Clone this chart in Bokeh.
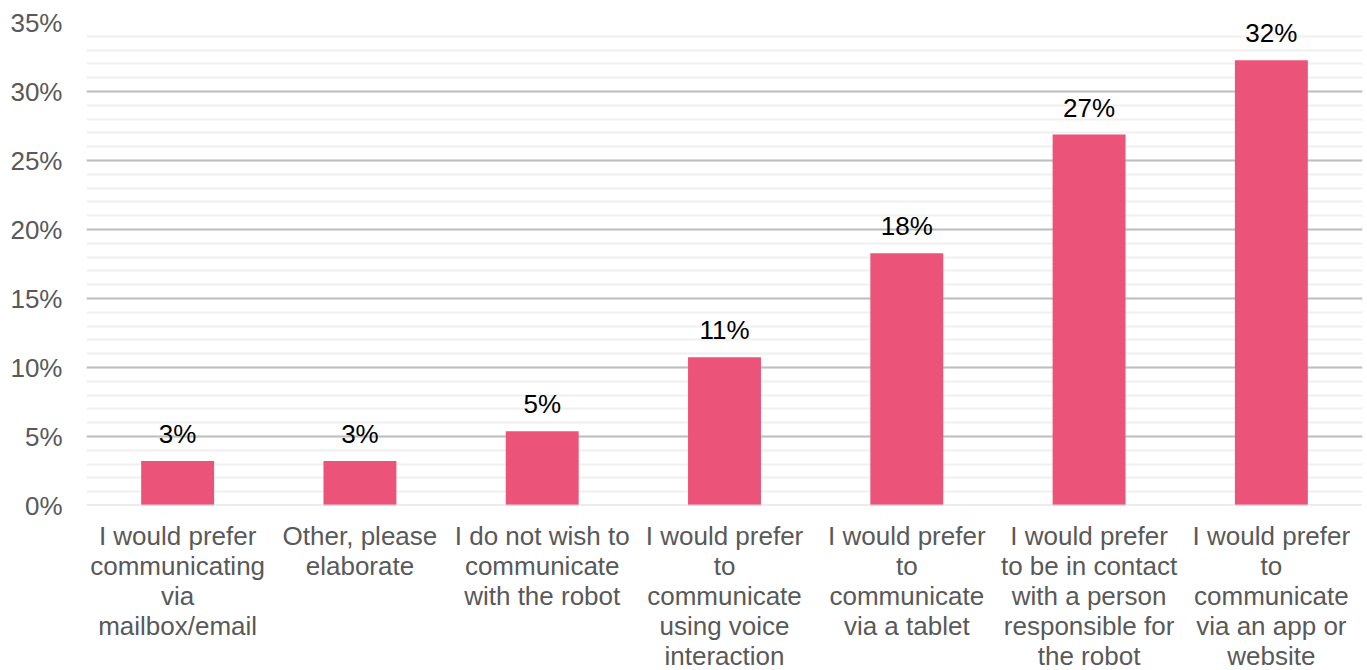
from bokeh.plotting import figure
from bokeh.layouts import column
from bokeh.models import ColumnDataSource, Range1d, SingleIntervalTicker, CustomJSTickFormatter, Span
from bokeh.core.properties import value
from bokeh.embed import file_html
from bokeh.resources import INLINE

categories = [
    "I would prefer\ncommunicating\nvia\nmailbox/email",
    "Other, please\nelaborate",
    "I do not wish to\ncommunicate\nwith the robot",
    "I would prefer\nto\ncommunicate\nusing voice\ninteraction",
    "I would prefer\nto\ncommunicate\nvia a tablet",
    "I would prefer\nto be in contact\nwith a person\nresponsible for\nthe robot",
    "I would prefer\nto\ncommunicate\nvia an app or\nwebsite",
]
values = [3.23, 3.23, 5.38, 10.75, 18.28, 26.88, 32.26]
labels = ["3%", "3%", "5%", "11%", "18%", "27%", "32%"]

FONT = "Liberation Sans"
FS = "26px"
Y_MAX = 35
W = 1367
TOP_H = 522      # chart part (frame 22..505)
BOT_H = 670 - TOP_H

xs = [i + 0.5 for i in range(len(categories))]
src = ColumnDataSource(dict(x=xs, val=values, lab=labels))
x_range = Range1d(0, len(categories))

p = figure(width=W, height=TOP_H, x_range=x_range, y_range=Range1d(0, Y_MAX),
           output_backend="svg", toolbar_location=None,
           min_border_left=86, min_border_right=5, min_border_top=22, min_border_bottom=17)
p.outline_line_color = None
p.background_fill_color = "white"

p.ygrid.grid_line_color = "#BFBFBF"
p.ygrid.grid_line_width = 2
p.ygrid.minor_grid_line_color = "#F0F0F0"
p.ygrid.minor_grid_line_width = 2
p.xgrid.grid_line_color = None
p.add_layout(Span(location=0, dimension="width", line_color="#D9D9D9", line_width=2))

p.vbar(x="x", top="val", width=0.4, source=src, fill_color="#EC5378", line_color=None)
p.text(x="x", y="val", text="lab", source=src, text_align="center", text_baseline="bottom",
       y_offset=-12, text_font=value(FONT), text_font_size=FS, text_color="#000000")

p.yaxis.ticker = SingleIntervalTicker(interval=5, num_minor_ticks=5)
p.yaxis.formatter = CustomJSTickFormatter(code="return tick.toFixed(0) + '%';")
p.yaxis.axis_line_color = None
p.yaxis.major_tick_line_color = None
p.yaxis.minor_tick_line_color = None
p.yaxis.major_label_text_font = FONT
p.yaxis.major_label_text_font_size = FS
p.yaxis.major_label_text_color = "#595959"
p.yaxis.major_label_standoff = 18
p.xaxis.visible = False

# category labels: a strip below the chart sharing the x range, y in pixels down from the strip top
lx, ly, lt = [], [], []
for i, cat in enumerate(categories):
    for j, line in enumerate(cat.split("\n")):
        lx.append(xs[i])
        ly.append(-(13 + 30 * j))
        lt.append(line)
lsrc = ColumnDataSource(dict(x=lx, y=ly, t=lt))

q = figure(width=W, height=BOT_H, x_range=x_range, y_range=Range1d(-BOT_H, 0),
           output_backend="svg", toolbar_location=None,
           min_border_left=86, min_border_right=5, min_border_top=0, min_border_bottom=0)
q.outline_line_color = None
q.xaxis.visible = False
q.yaxis.visible = False
q.grid.visible = False
q.text(x="x", y="y", text="t", source=lsrc, text_align="center", text_baseline="alphabetic",
       text_font=value(FONT), text_font_size=FS, text_color="#595959")

layout = column(p, q, spacing=0)
open("out.html", "w").write(file_html(layout, INLINE))
